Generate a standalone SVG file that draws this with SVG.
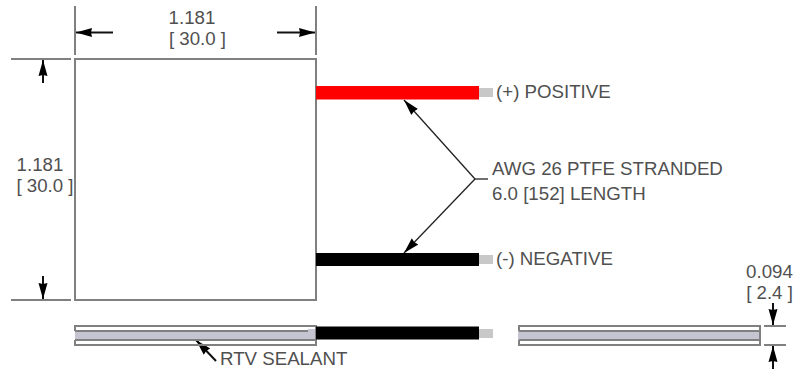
<svg xmlns="http://www.w3.org/2000/svg" width="811" height="372" viewBox="0 0 811 372">
<style>
text{font-family:"Liberation Sans",Arial,sans-serif;font-size:18.700px;fill:#505050}
.g{stroke:#808080;stroke-width:2;fill:none}
.a{stroke:#111;stroke-width:2;fill:none}
.l{stroke:#222;stroke-width:1.300;fill:none}
.fill{fill:#c5c5d1}
.tip{fill:#c8c8c8}
</style>
<defs>
<marker id="arr" markerUnits="userSpaceOnUse" markerWidth="18" markerHeight="14" refX="16" refY="7" orient="auto"><path d="M0 2.500L16 7L0 11.500L1 7Z" fill="#000"/></marker>
</defs>
<rect width="811" height="372" fill="#fff"/>
<g id="connectors">
<path class="g" d="M75 6V55M316 6V55M11 59H71M11 300H71M764 326H786M764 345H786"/>
<path class="a" marker-end="url(#arr)" d="M113 32.500H76"/>
<path class="a" marker-end="url(#arr)" d="M277 32.500H315"/>
<path class="a" marker-end="url(#arr)" d="M43 83V60"/>
<path class="a" marker-end="url(#arr)" d="M43 276V299"/>
<path class="a" marker-end="url(#arr)" d="M773 303V325"/>
<path class="a" marker-end="url(#arr)" d="M773 369V346"/>
<path class="l" d="M488 179H475"/>
<path class="l" marker-end="url(#arr)" d="M475 179L404 100"/>
<path class="l" marker-end="url(#arr)" d="M475 179L404 253"/>
<path class="a" marker-end="url(#arr)" d="M216 361L196 340"/>
</g>
<g id="module"><rect class="g" x="75" y="59" width="241" height="241"/></g>
<g id="wire-positive">
<rect x="316" y="86" width="163" height="13.500" fill="#f00"/>
<rect class="tip" x="479" y="88" width="14" height="9"/>
</g>
<g id="wire-negative">
<rect x="316" y="253" width="163" height="13" fill="#000"/>
<rect class="tip" x="479" y="255" width="14" height="9"/>
</g>
<g id="side-left">
<rect class="fill" x="75" y="331" width="241" height="9"/>
<path class="g" d="M75 331V326H316V345H75V340"/>
<path class="g" d="M75 331H308M75 340H316"/>
<rect x="308" y="329" width="7" height="10" class="fill"/>
<rect x="316" y="326.500" width="163" height="13" fill="#000"/>
<rect class="tip" x="479" y="329" width="14" height="9"/>
</g>
<g id="side-right">
<rect class="fill" x="518" y="331" width="241" height="9"/>
<path class="g" d="M519 331V326H760V345H519V340"/>
<path class="g" d="M519 331H760V340H519"/>
</g>
<g id="labels">
<text x="192" y="24" text-anchor="middle">1.181</text>
<text x="197.500" y="45" text-anchor="middle">[ 30.0 ]</text>
<text x="40" y="171" text-anchor="middle">1.181</text>
<text x="45" y="192" text-anchor="middle">[ 30.0 ]</text>
<text x="496" y="98">(+) POSITIVE</text>
<text x="496" y="265">(-) NEGATIVE</text>
<text x="492" y="175">AWG 26 PTFE STRANDED</text>
<text x="492" y="200">6.0 [152] LENGTH</text>
<text x="220" y="365">RTV SEALANT</text>
<text x="769.500" y="278" text-anchor="middle">0.094</text>
<text x="769.500" y="299" text-anchor="middle">[ 2.4 ]</text>
</g>
</svg>
